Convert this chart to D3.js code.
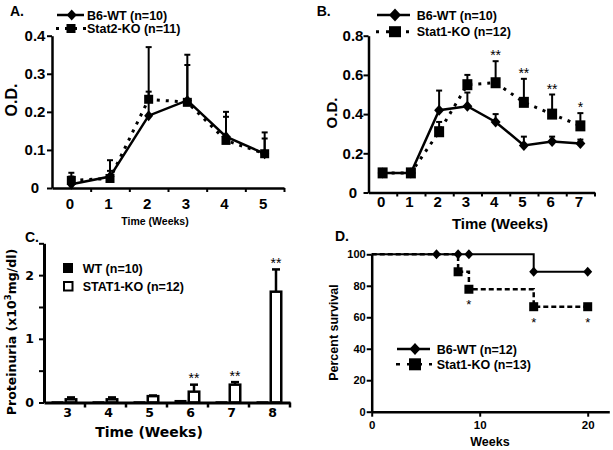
<!DOCTYPE html>
<html><head><meta charset="utf-8">
<script src="https://cdn.jsdelivr.net/npm/d3@7"></script>
<style>body{margin:0;background:#fff} svg{display:block}</style>
</head><body>
<svg id="c" width="613" height="450"></svg>
<script>
// ---------- Panel A data ----------
const aWeeks=[0,1,2,3,4,5];
const aWT=[0.01,0.03,0.19,0.23,0.135,0.09];
const aWTerr=[0.02,0.043,0.063,0.093,0.065,0.056];
const aKO=[0.02,0.025,0.233,0.225,0.125,0.09];
const aKOerr=[0.02,0.02,0.137,0.125,0.062,0.04];
const aYTicks=[0,0.1,0.2,0.3,0.4];
const aYLabels=["0","0.1","0.2","0.3","0.4"];
// ---------- Panel B data ----------
const bWeeks=[0,1,2,3,4,5,6,7];
const bWT=[0.1,0.1,0.42,0.44,0.36,0.24,0.26,0.25];
const bWTerr=[0.01,0.01,0.1,0.07,0.04,0.045,0.025,0.02];
const bKO=[0.1,0.1,0.31,0.55,0.56,0.46,0.4,0.34];
const bKOerr=[0.01,0.01,0.05,0.05,0.11,0.12,0.1,0.065];
const bSig=["","","","","**","**","**","*"];
const bYTicks=[0,0.2,0.4,0.6,0.8];
const bYLabels=["0","0.2","0.4","0.6","0.8"];
// ---------- Panel C data ----------
const cWeeks=[3,4,5,6,7,8];
const cWT=[0.02,0.02,0.02,0.04,0.02,0.02];
const cKO=[0.05,0.05,0.1,0.17,0.28,1.74];
const cKOerr=[0.03,0.03,0.01,0.11,0.04,0.35];
const cSig=["","","","**","**","**"];
const cYTicks=[0,0.5,1,1.5,2,2.5];
const cYLabels=[0,1,2];
// ---------- Panel D data ----------
const dWTtimes=[0,15,20], dWTsurv=[100,88.9,88.9];
const dWTmarks=[6,8,9,15,20];
const dKOtimes=[0,8,9,15,20], dKOsurv=[100,88.9,77.8,66.7,66.7];
const dKOmarks=[8,9,15,20];
const dKOsig=[9,15,20];
const dYTicks=[0,20,40,60,80,100];
const dXTicks=[0,10,20];

const svg=d3.select("#c");
const AR="'Liberation Sans', Arial, sans-serif";
const VE="'DejaVu Sans', Verdana, sans-serif";
const diamond=(w,h)=>`M0,${-h}L${w},0L0,${h}L${-w},0Z`;

function txt(g,x,y,s,size,opt={}){
  return g.append("text").attr("x",x).attr("y",y).text(s)
    .attr("font-family",opt.family||AR).attr("font-weight",opt.weight||"bold")
    .attr("font-size",size).attr("text-anchor",opt.anchor||"start")
    .attr("fill","#000");
}
function rotTxt(g,x,y,s,size,family){
  return g.append("text").attr("transform",`translate(${x},${y}) rotate(-90)`)
    .attr("text-anchor","middle").attr("font-family",family||AR).attr("font-weight","bold")
    .attr("font-size",size).text(s);
}
function styleAxis(sel,w){
  sel.select(".domain").attr("stroke","#000").attr("stroke-width",w);
  sel.selectAll(".tick line").attr("stroke","#000").attr("stroke-width",2);
}

function linePanel(cfg){
  const g=svg.append("g");
  const n=cfg.weeks.length;
  const x=d3.scaleLinear().domain([-0.5,n-0.5]).range(cfg.xr);
  const y=d3.scaleLinear().domain([0,cfg.ymax]).range(cfg.yr);
  const line=d3.line().x((d,i)=>x(cfg.weeks[i])).y(d=>y(d));
  g.append("path").attr("d",line(cfg.ko)).attr("fill","none").attr("stroke","#000")
    .attr("stroke-width",3).attr("stroke-dasharray","3,6");
  g.append("path").attr("d",line(cfg.wt)).attr("fill","none").attr("stroke","#000")
    .attr("stroke-width",2.5);
  function err(vals,errs,cw){
    cfg.weeks.forEach((wk,i)=>{
      const cx=x(wk), y0=y(vals[i]), y1=y(vals[i]+errs[i]);
      g.append("line").attr("x1",cx).attr("x2",cx).attr("y1",y0).attr("y2",y1).attr("stroke","#000").attr("stroke-width",2);
      g.append("line").attr("x1",cx-cw).attr("x2",cx+cw).attr("y1",y1).attr("y2",y1).attr("stroke","#000").attr("stroke-width",2);
    });
  }
  err(cfg.wt,cfg.wtErr,3);
  err(cfg.ko,cfg.koErr,3);
  g.selectAll(".dm").data(cfg.wt).join("path")
    .attr("transform",(d,i)=>`translate(${x(cfg.weeks[i])},${y(d)})`)
    .attr("d",diamond(cfg.dw,cfg.dh)).attr("fill","#000");
  g.selectAll(".sq").data(cfg.ko).join("rect")
    .attr("x",(d,i)=>x(cfg.weeks[i])-cfg.sw/2).attr("y",d=>y(d)-cfg.sh/2)
    .attr("width",cfg.sw).attr("height",cfg.sh).attr("fill","#000");
  if(cfg.sig){
    cfg.weeks.forEach((wk,i)=>{
      if(cfg.sig[i]) txt(g,x(wk),y(cfg.ko[i]+cfg.koErr[i])-1,cfg.sig[i],14,{anchor:"middle",weight:"normal"});
    });
  }
  const xa=g.append("g").attr("transform",`translate(0,${cfg.yr[0]})`)
    .call(d3.axisBottom(x).tickValues(cfg.weeks.map(d=>d+0.5)).tickSize(4).tickSizeOuter(0).tickFormat(""));
  styleAxis(xa,2.5);
  const ya=g.append("g").attr("transform",`translate(${cfg.xr[0]},0)`)
    .call(d3.axisLeft(y).tickValues(cfg.yTicks).tickSize(5).tickSizeOuter(0).tickFormat((d,i)=>cfg.yLabels[i]));
  styleAxis(ya,2.5);
  ya.selectAll(".tick text").attr("x",cfg.ylabX-cfg.xr[0]).attr("text-anchor","middle")
    .attr("font-family",AR).attr("font-weight","bold").attr("font-size",15).attr("fill","#000");
  cfg.weeks.forEach(wk=>txt(g,x(wk)-1.5,cfg.xlabY,String(wk),15,{anchor:"middle"}));
  return {g,x,y};
}

// ---------- Panel A ----------
linePanel({weeks:aWeeks,wt:aWT,wtErr:aWTerr,ko:aKO,koErr:aKOerr,
  xr:[52,284],yr:[188,35.7],ymax:0.4,yTicks:aYTicks,yLabels:aYLabels,ylabX:35,xlabY:208.5,
  dw:4.5,dh:5.5,sw:9,sh:9});
txt(svg,10,16,"A.",14);
rotTxt(svg,17,100,"O.D.",16);
txt(svg,155,224.5,"Time (Weeks)",10.5,{anchor:"middle"});
svg.append("line").attr("x1",57).attr("x2",84).attr("y1",15).attr("y2",15).attr("stroke","#000").attr("stroke-width",2.5);
svg.append("path").attr("transform","translate(71.7,15)").attr("d",diamond(5,5.5));
txt(svg,87,19.5,"B6-WT (n=10)",12.5);
svg.append("line").attr("x1",56).attr("x2",86).attr("y1",28.5).attr("y2",28.5).attr("stroke","#000").attr("stroke-width",3).attr("stroke-dasharray","3,6");
svg.append("rect").attr("x",66.5).attr("y",24).attr("width",9).attr("height",9);
txt(svg,87,33,"Stat2-KO (n=11)",12.5);

// ---------- Panel B ----------
linePanel({weeks:bWeeks,wt:bWT,wtErr:bWTerr,ko:bKO,koErr:bKOerr,sig:bSig,
  xr:[368.5,594.5],yr:[192.5,35.7],ymax:0.8,yTicks:bYTicks,yLabels:bYLabels,ylabX:353,xlabY:207,
  dw:5,dh:5.5,sw:10,sh:11});
txt(svg,316.7,16,"B.",14);
rotTxt(svg,337,113,"O.D.",15);
txt(svg,500,228.5,"Time (Weeks)",15,{anchor:"middle"});
svg.append("line").attr("x1",377).attr("x2",410).attr("y1",15).attr("y2",15).attr("stroke","#000").attr("stroke-width",2.5);
svg.append("path").attr("transform","translate(395,15)").attr("d",diamond(6,6.5));
txt(svg,416.7,19.5,"B6-WT (n=10)",12.5);
svg.append("line").attr("x1",376).attr("x2",412).attr("y1",31.7).attr("y2",31.7).attr("stroke","#000").attr("stroke-width",3).attr("stroke-dasharray","3,7");
svg.append("rect").attr("x",389).attr("y",26.2).attr("width",12).attr("height",11);
txt(svg,416.7,36,"Stat1-KO (n=12)",12.5);

// ---------- Panel C ----------
{
  const g=svg.append("g");
  const x=d3.scaleBand().domain(cWeeks).range([44,290]);
  const inner=d3.scaleBand().domain(["WT","KO"]).range([-13,13]);
  const y=d3.scaleLinear().domain([0,2.5]).range([402.5,243.3]);
  g.selectAll(".wt").data(cWT).join("rect")
    .attr("x",(d,i)=>x(cWeeks[i])+x.bandwidth()/2+inner("WT")).attr("y",d=>y(d))
    .attr("width",inner.bandwidth()-1).attr("height",d=>y(0)-y(d)).attr("fill","#000");
  cWeeks.forEach((wk,i)=>{
    const cx=x(wk)+x.bandwidth()/2+inner("KO")+inner.bandwidth()/2;
    const y1=y(cKO[i]+cKOerr[i]);
    g.append("line").attr("x1",cx).attr("x2",cx).attr("y1",y(cKO[i])).attr("y2",y1).attr("stroke","#000").attr("stroke-width",2.5);
    g.append("line").attr("x1",cx-4).attr("x2",cx+4).attr("y1",y1).attr("y2",y1).attr("stroke","#000").attr("stroke-width",2.5);
    if(cSig[i]) txt(g,cx,y1-1.5,cSig[i],14,{anchor:"middle",weight:"normal"});
  });
  g.selectAll(".ko").data(cKO).join("rect")
    .attr("x",(d,i)=>x(cWeeks[i])+x.bandwidth()/2+inner("KO")+1.25).attr("y",d=>y(d))
    .attr("width",inner.bandwidth()-2.5).attr("height",d=>y(0)-y(d))
    .attr("fill","#fff").attr("stroke","#000").attr("stroke-width",2.5);
  const xa=g.append("g").attr("transform",`translate(0,${y(0)})`)
    .call(d3.axisBottom(x).tickSize(0).tickSizeOuter(0).tickFormat(""));
  styleAxis(xa,3);
  xa.selectAll(".bt").data(cWeeks).join("line")
    .attr("x1",d=>x(d)+x.bandwidth()).attr("x2",d=>x(d)+x.bandwidth())
    .attr("y1",0).attr("y2",5).attr("stroke","#000").attr("stroke-width",2.5);
  cWeeks.forEach(wk=>txt(g,x(wk)+x.bandwidth()/2+3,417,String(wk),12.5,{anchor:"middle",family:VE}));
  const ya=g.append("g").attr("transform",`translate(44,0)`)
    .call(d3.axisLeft(y).tickValues(cYTicks).tickSize(5).tickSizeOuter(0).tickFormat(d=>cYLabels.includes(d)?String(d):""));
  styleAxis(ya,3);
  ya.selectAll(".tick text").attr("x",-10).attr("font-family",VE).attr("font-weight","bold")
    .attr("font-size",12.5).attr("fill","#000");
  txt(svg,25,241.5,"C.",14);
  const t=svg.append("text").attr("transform","translate(16,332) rotate(-90)").attr("text-anchor","middle")
    .attr("font-family",VE).attr("font-weight","bold").attr("font-size",12.5);
  t.append("tspan").text("Proteinuria (x10");
  t.append("tspan").attr("dy",-5).attr("font-size",8.5).text("3");
  t.append("tspan").attr("dy",5).text("mg/dl)");
  txt(svg,149,437,"Time (Weeks)",14,{anchor:"middle",family:VE});
  svg.append("rect").attr("x",63).attr("y",263).attr("width",10).attr("height",10).attr("fill","#000");
  txt(svg,82.7,273,"WT (n=10)",12.5);
  svg.append("rect").attr("x",64).attr("y",282).attr("width",8.5).attr("height",8.5).attr("fill","#fff").attr("stroke","#000").attr("stroke-width",2);
  txt(svg,82.7,291,"STAT1-KO (n=12)",12.5);
}

// ---------- Panel D ----------
{
  const g=svg.append("g");
  const x=d3.scaleLinear().domain([0,22]).range([371.7,609.3]);
  const y=d3.scaleLinear().domain([0,100]).range([411.7,254.3]);
  const step=d3.line().x(d=>x(d[0])).y(d=>y(d[1])).curve(d3.curveStepAfter);
  const survAt=(times,surv,t)=>{let v=surv[0];times.forEach((tt,i)=>{if(tt<=t)v=surv[i];});return v;};
  g.append("path").attr("d",step(dKOtimes.map((t,i)=>[t,dKOsurv[i]]))).attr("fill","none")
    .attr("stroke","#000").attr("stroke-width",2.5).attr("stroke-dasharray","5,3");
  g.append("path").attr("d",step(dWTtimes.map((t,i)=>[t,dWTsurv[i]]))).attr("fill","none")
    .attr("stroke","#000").attr("stroke-width",2);
  g.selectAll(".dm").data(dWTmarks).join("path")
    .attr("transform",d=>`translate(${x(d)},${y(survAt(dWTtimes,dWTsurv,d))})`)
    .attr("d",diamond(4.5,5)).attr("fill","#000");
  g.selectAll(".sq").data(dKOmarks).join("rect")
    .attr("x",d=>x(d)-4.5).attr("y",d=>y(survAt(dKOtimes,dKOsurv,d))-4.5)
    .attr("width",9).attr("height",9).attr("fill","#000");
  dKOsig.forEach(t=>txt(g,x(t),y(survAt(dKOtimes,dKOsurv,t))+20,"*",13,{anchor:"middle",weight:"normal"}));
  const xa=g.append("g").attr("transform",`translate(0,${y(0)})`)
    .call(d3.axisBottom(x).tickValues(dXTicks).tickSize(5).tickSizeOuter(0));
  styleAxis(xa,2.5);
  xa.selectAll(".tick text").attr("y",9).attr("font-family",AR).attr("font-weight","bold").attr("font-size",11.5).attr("fill","#000");
  const ya=g.append("g").attr("transform",`translate(${x(0)},0)`)
    .call(d3.axisLeft(y).tickValues(dYTicks).tickSize(5).tickSizeOuter(0));
  styleAxis(ya,2.5);
  ya.selectAll(".tick text").attr("x",-6).attr("font-family",AR).attr("font-weight","bold").attr("font-size",11).attr("fill","#000");
  txt(svg,335,240.5,"D.",14);
  rotTxt(svg,338,332.5,"Percent survival",12.5);
  txt(svg,490,446,"Weeks",12.5,{anchor:"middle"});
  svg.append("line").attr("x1",397).attr("x2",430).attr("y1",349).attr("y2",349).attr("stroke","#000").attr("stroke-width",2.5);
  svg.append("path").attr("transform","translate(415,349)").attr("d",diamond(5.5,6));
  txt(svg,436.7,353.5,"B6-WT (n=12)",12.5);
  svg.append("line").attr("x1",396).attr("x2",432).attr("y1",364.3).attr("y2",364.3).attr("stroke","#000").attr("stroke-width",2.5).attr("stroke-dasharray","4,7");
  svg.append("rect").attr("x",409).attr("y",358.3).attr("width",12).attr("height",12);
  txt(svg,436.7,369,"Stat1-KO (n=13)",12.5);
}
</script>
</body></html>
